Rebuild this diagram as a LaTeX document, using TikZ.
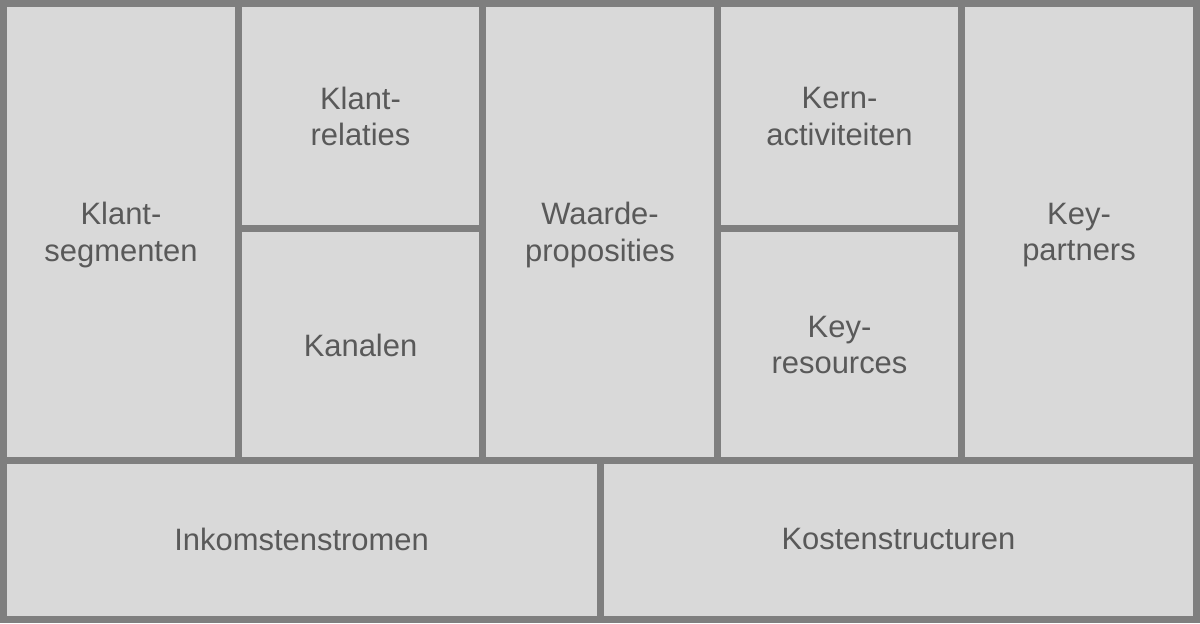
\documentclass[tikz,border=0pt]{standalone}
\usepackage{fontspec}
\setmainfont{Liberation Sans}
\definecolor{rasterline}{HTML}{7F7F7F}
\definecolor{vakfill}{HTML}{D9D9D9}
\definecolor{vaktext}{HTML}{595959}
\tikzset{
  raster/.style={draw=rasterline,line width=4.98pt},
  vaklabel/.style={text=vaktext,align=center,font=\fontsize{22}{25.8}\selectfont,inner sep=0pt}
}

\begin{document}
\begin{tikzpicture}
\useasboundingbox (0,0) rectangle (30,15.575);

%%%%%
\fill[vakfill] (0,0) rectangle (30,15.575);

%%%%%
\def\ytop{15.4875}
\def\ymid{4.075}
\def\yhalf{9.8625}
\draw[raster] (0.0875,0.0875) rectangle (29.9125,\ytop);
\draw[raster] (0.0875,\ymid) -- (29.9125,\ymid);
\foreach \x in {5.9625,12.0625,17.9375,24.0375}
{ \draw[raster] (\x,\ytop) -- (\x,\ymid);
}
\draw[raster] (15,\ymid) -- (15,0.0875);
\draw[raster] (5.9625,\yhalf) -- (12.0625,\yhalf);
\draw[raster] (17.9375,\yhalf) -- (24.0375,\yhalf);

%%%%%
\node[vaklabel] (segmenten) at (3.025,9.7) {Klant-\\segmenten};
\node[vaklabel] (relaties) at (9.0125,12.665) {Klant-\\relaties};
\node[vaklabel] (kanalen) at (9.0125,6.95) {Kanalen};
\node[vaklabel] (proposities) at (15,9.7) {Waarde-\\proposities};
\node[vaklabel] (activiteiten) at (20.9875,12.665) {Kern-\\activiteiten};
\node[vaklabel] (resources) at (20.9875,6.95) {Key-\\resources};
\node[vaklabel] (partners) at (26.975,9.7) {Key-\\partners};

%%%%%
\node[vaklabel] (inkomsten) at (7.54,2.1) {Inkomstenstromen};
\node[vaklabel] (kosten) at (22.46,2.1) {Kostenstructuren};

\end{tikzpicture}
\end{document}
